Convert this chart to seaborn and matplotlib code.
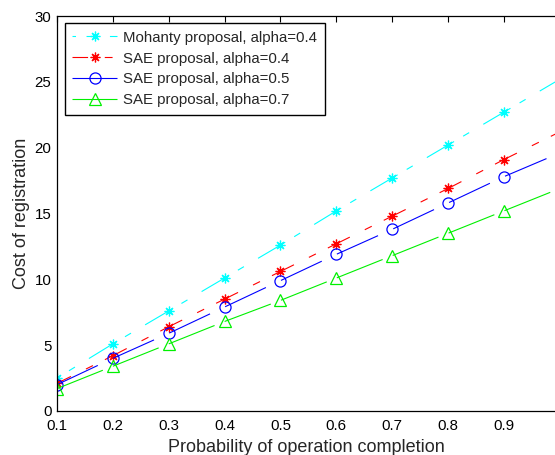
import numpy as np
import pandas as pd
import matplotlib
matplotlib.use("Agg")
import matplotlib.pyplot as plt
import seaborn as sns

# ---- data ----
prob = [0.1, 0.2, 0.3, 0.4, 0.5, 0.6, 0.7, 0.8, 0.9, 1.0]
mohanty_04 = [2.5, 5.1, 7.6, 10.1, 12.6, 15.2, 17.7, 20.2, 22.7, 25.2]
sae_04 = [2.1, 4.2, 6.4, 8.5, 10.6, 12.7, 14.8, 16.9, 19.1, 21.2]
sae_05 = [2.0, 4.0, 5.9, 7.9, 9.9, 11.9, 13.8, 15.8, 17.8, 19.6]
sae_07 = [1.7, 3.4, 5.1, 6.8, 8.4, 10.1, 11.8, 13.5, 15.2, 16.9]
labels = ["Mohanty proposal, alpha=0.4", "SAE proposal, alpha=0.4",
          "SAE proposal, alpha=0.5", "SAE proposal, alpha=0.7"]
xticks = [0.1, 0.2, 0.3, 0.4, 0.5, 0.6, 0.7, 0.8, 0.9]
yticks = [0, 5, 10, 15, 20, 25, 30]

sns.set_style("white")
plt.rcParams["font.family"] = ["Liberation Sans", "DejaVu Sans"]
plt.rcParams["lines.scale_dashes"] = False

DPI = 100
fig = plt.figure(figsize=(5.55, 4.55), dpi=DPI)
ax = fig.add_axes([57 / 555, 44 / 455, 498 / 555, 395 / 455])
ax.set_xlim(0.1, 0.9913)
ax.set_ylim(0, 30)

series = [mohanty_04, sae_04, sae_05, sae_07]
colors = ["#00FFFF", "#FF0000", "#0000FF", "#00F000"]
markers = [(8, 2, 0), (8, 2, 0), "o", "^"]
msizes = [7, 7, 8, 9]
# dash patterns as fractions of the marker-to-marker segment: (offset, [on, off, ...])
patterns = [
    (24 / 56, [27 / 56, 9 / 56, 6 / 56, 14 / 56]),
    (8 / 56, [22 / 56, 15 / 56, 7 / 56, 12 / 56]),
    (0.0, [0.73, 0.27]),
    (0.0, [0.82, 0.18]),
]
mark_idx = list(range(len(xticks)))

for vals, col, mk, ms, lab in zip(series, colors, markers, msizes, labels):
    sns.lineplot(x=prob, y=vals, ax=ax, color=col, marker=mk, markersize=ms,
                 linewidth=0.8, label=lab, markerfacecolor="none",
                 markeredgecolor=col, markeredgewidth=0.9, markevery=mark_idx)

for line, vals, (off, pat) in zip(ax.lines, series, patterns):
    p = ax.transData.transform(np.column_stack([prob[:2], vals[:2]]))
    seg_pt = np.hypot(*(p[1] - p[0])) * 72 / DPI
    line.set_linestyle((off * seg_pt, [f * seg_pt for f in pat]))

ax.set_xticks(xticks)
ax.set_xticklabels([f"{t:g}" for t in xticks])
ax.set_yticks(yticks)
ax.tick_params(direction="in", length=4, width=0.8, colors="black",
               labelsize=10.8, top=True, right=False)
ax.tick_params(axis="x", pad=6)
ax.tick_params(axis="y", pad=4)
for side in ["left", "bottom", "top"]:
    ax.spines[side].set_color("black")
    ax.spines[side].set_linewidth(0.9)
ax.spines["right"].set_visible(False)

ax.set_xlabel("Probability of operation completion", fontsize=13, labelpad=4)
ax.set_ylabel("Cost of registration", fontsize=13, labelpad=3)

leg = ax.legend(loc="upper left", bbox_to_anchor=(0.016, 0.982), fontsize=10.8,
                frameon=True, fancybox=False, framealpha=1, edgecolor="black",
                handlelength=3.0, handletextpad=0.4, labelspacing=0.46,
                borderpad=0.5, borderaxespad=0)
leg.get_frame().set_linewidth(1.0)

fig.savefig("out.png", dpi=DPI)
